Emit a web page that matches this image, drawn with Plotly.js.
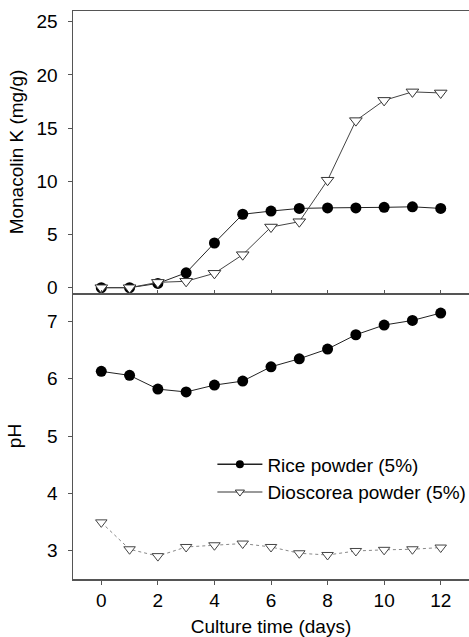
<!DOCTYPE html>
<html>
<head>
<meta charset="utf-8">
<script src="https://cdn.plot.ly/plotly-3.0.1.min.js"></script>
<style>
html,body{margin:0;padding:0;background:#fff;}
#chart{width:469px;height:637px;}
</style>
</head>
<body>
<div id="chart"></div>
<script>
var days = [0,1,2,3,4,5,6,7,8,9,10,11,12];
var riceMonacolin = [0.0,0.0,0.4,1.4,4.2,6.9,7.2,7.45,7.5,7.5,7.55,7.6,7.45];
var dioscoreaMonacolin = [0.0,0.0,0.5,0.6,1.35,3.1,5.7,6.2,10.1,15.7,17.6,18.4,18.3];
var ricePH = [6.13,6.06,5.82,5.77,5.89,5.96,6.21,6.35,6.52,6.77,6.94,7.02,7.15];
var dioscoreaPH = [3.49,3.02,2.90,3.06,3.09,3.12,3.06,2.95,2.92,2.99,3.01,3.02,3.05];
var seriesNames = ['Rice powder (5%)','Dioscorea powder (5%)'];
var xTicks = [0,2,4,6,8,10,12];
var monacolinTicks = [0,5,10,15,20,25];
var pHTicks = [3,4,5,6,7];

var FONT = 'Liberation Sans, Arial, sans-serif';
var AXC = '#555555';
var FS = 19;

var traces = [
  {x: days, y: riceMonacolin, xaxis:'x2', yaxis:'y2', mode:'lines+markers', showlegend:false,
   line:{color:'#222222', width:1}, marker:{symbol:'circle', size:11, color:'#000000'}},
  {x: days, y: dioscoreaMonacolin, xaxis:'x2', yaxis:'y2', mode:'lines+markers', showlegend:false,
   line:{color:'#444444', width:1}, marker:{symbol:'triangle-down', size:11, color:'#ffffff', line:{color:'#333333', width:1}}},
  {x: days, y: ricePH, xaxis:'x', yaxis:'y', mode:'lines+markers', showlegend:false,
   line:{color:'#222222', width:1}, marker:{symbol:'circle', size:11, color:'#000000'}},
  {x: days, y: dioscoreaPH, xaxis:'x', yaxis:'y', mode:'lines+markers', showlegend:false,
   line:{color:'#888888', width:1, dash:'dot'}, marker:{symbol:'triangle-down', size:10, color:'#ffffff', line:{color:'#444444', width:1}}},
  {x:[null], y:[null], xaxis:'x', yaxis:'y', mode:'lines+markers', name:seriesNames[0],
   line:{color:'#222222', width:1.5}, marker:{symbol:'circle', size:8, color:'#000000'}},
  {x:[null], y:[null], xaxis:'x', yaxis:'y', mode:'lines+markers', name:seriesNames[1],
   line:{color:'#777777', width:1.5}, marker:{symbol:'triangle-down', size:8, color:'#ffffff', line:{color:'#333333', width:1}}}
];

var layout = {
  width:469, height:637,
  margin:{l:73, r:0, t:11, b:58, pad:0, autoexpand:false},
  paper_bgcolor:'#ffffff', plot_bgcolor:'#ffffff',
  font:{family:FONT, size:FS, color:'#000000'},
  showlegend:true,
  legend:{x:0.352, y:0.235, xanchor:'left', yanchor:'top', bgcolor:'rgba(0,0,0,0)', itemwidth:45,
          font:{family:FONT, size:FS, color:'#000000'}, tracegroupgap:0},
  xaxis:{domain:[0,1], anchor:'y', range:[-1,13], tickvals:xTicks, ticks:'outside', ticklen:4,
         tickcolor:AXC, showline:true, linecolor:AXC, linewidth:1.5, showgrid:false, zeroline:false,
         title:{text:'Culture time (days)', font:{family:FONT, size:FS}, standoff:10}},
  yaxis:{domain:[0,0.5035], anchor:'x', range:[2.5,7.5], tickvals:pHTicks, ticks:'outside', ticklen:4,
         tickcolor:AXC, showline:true, linecolor:AXC, linewidth:1.5, showgrid:false, zeroline:false,
         ticklabelstandoff:6,
         title:{text:'pH', font:{family:FONT, size:FS}, standoff:20}},
  xaxis2:{domain:[0,1], anchor:'y2', range:[-1,13], tickvals:xTicks, ticks:'inside', ticklen:3,
          tickcolor:AXC, showticklabels:false, showline:true, mirror:true, linecolor:AXC, linewidth:1.5,
          showgrid:false, zeroline:false},
  yaxis2:{domain:[0.5035,1], anchor:'x2', range:[-0.5,26], tickvals:monacolinTicks, ticks:'outside', ticklen:4,
          tickcolor:AXC, showline:true, linecolor:AXC, linewidth:1.5, showgrid:false, zeroline:false,
          ticklabelstandoff:6,
          title:{text:'Monacolin K (mg/g)', font:{family:FONT, size:FS}, standoff:8}}
};

Plotly.newPlot('chart', traces, layout, {staticPlot:true, displayModeBar:false});
</script>
</body>
</html>
